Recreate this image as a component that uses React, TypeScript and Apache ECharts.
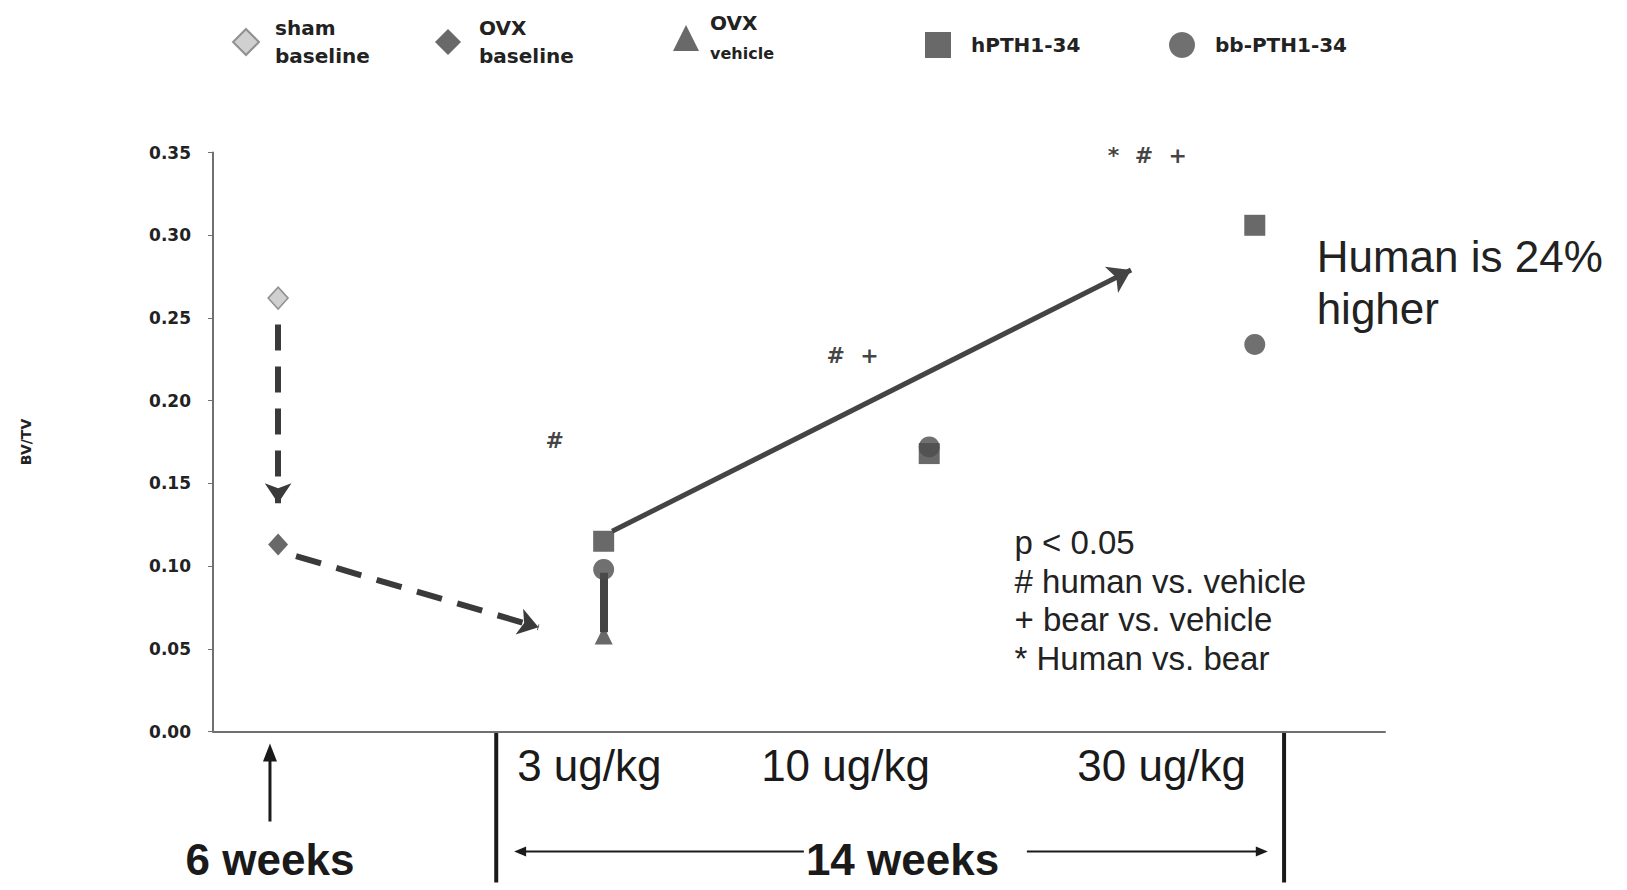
import React, { useEffect, useRef } from "react";
import * as echarts from "echarts";

// ---- data (BV/TV) ----
const shamBaseline = [[0.2, 0.262]];
const ovxBaseline = [[0.2, 0.113]];
const ovxVehicle = [[1.2, 0.058]];
const hPTH = [[1.2, 0.115], [2.2, 0.168], [3.2, 0.306]];
const bbPTH = [[1.2, 0.098], [2.2, 0.172], [3.2, 0.234]];

const yTickStep = 0.05;
const yMax = 0.35;

// significance marks [x, y, text]
const sigMarks: [number, number, string][] = [
  [1.05, 0.176, "#"],
  [1.965, 0.227, "#  +"],
  [2.87, 0.348, "*  #  +"],
];

// arrows (data coords)
const dashedArrows = [
  [[0.2, 0.246], [0.2, 0.138]],
  [[0.255, 0.106], [1.0, 0.063]],
];
const trendArrow = [[1.226, 0.121], [2.82, 0.279]];
const vehicleBar = [[1.2, 0.06], [1.2, 0.096]];

const doseLabels: [number, string][] = [
  [1.156, "3 ug/kg"],
  [1.943, "10 ug/kg"],
  [2.914, "30 ug/kg"],
];
const sixWeekX = 0.175;
const periodBounds = [0.87, 3.29];
const fourteenWeekX = 2.118;
const fourteenArrowLeft = [1.815, 0.925];
const fourteenArrowRight = [2.5, 3.24];

const humanNote = { x: 3.39, y: 0.287, text: "Human is 24%\nhigher" };
const pNote = { x: 2.462, y: 0.1142, text: "p < 0.05\n# human vs. vehicle\n+ bear vs. vehicle\n* Human vs. bear" };

const seriesNames = ["sham baseline", "OVX baseline", "OVX vehicle", "hPTH1-34", "bb-PTH1-34"];
const legendLabels: Record<string, string> = {
  "sham baseline": "sham\nbaseline",
  "OVX baseline": "OVX\nbaseline",
  "OVX vehicle": "{a|OVX}\n{b|vehicle}",
  "hPTH1-34": "hPTH1-34",
  "bb-PTH1-34": "bb-PTH1-34",
};
const legendPos = [
  { left: 227, top: 9, pad: 11 },
  { left: 430, top: 9, pad: 13 },
  { left: 668, top: 3, pad: 6 },
  { left: 920, top: 26, pad: 15 },
  { left: 1164, top: 26, pad: 15 },
];

const DARK = "#444444";
const AXIS = "#707070";
const BOLD_FONT = "DejaVu Sans";
const ARIAL = "Liberation Sans";

export default function App() {
  const ref = useRef<HTMLDivElement>(null);
  useEffect(() => {
    if (!ref.current) return;
    const chart = echarts.init(ref.current, undefined, { renderer: "svg" });

    const legends = seriesNames.map((name, i) => ({
      data: [name],
      left: legendPos[i].left,
      top: legendPos[i].top,
      orient: "horizontal",
      itemWidth: 26,
      itemHeight: 26,
      selectedMode: false,
      formatter: (n: string) => legendLabels[n],
      textStyle: {
        fontFamily: BOLD_FONT,
        fontWeight: "bold",
        fontSize: 20,
        color: "#222",
        lineHeight: 28,
        padding: [0, 0, 0, legendPos[i].pad],
        rich: {
          a: { fontFamily: BOLD_FONT, fontWeight: "bold", fontSize: 20, color: "#222", lineHeight: 30 },
          b: { fontFamily: BOLD_FONT, fontWeight: "bold", fontSize: 16, color: "#222", lineHeight: 30 },
        },
      },
    }));

    const option: any = {
      animation: false,
      backgroundColor: "#ffffff",
      legend: legends,
      grid: { left: 213, top: 152.5, width: 1172, height: 579, containLabel: false },
      xAxis: {
        type: "value",
        min: 0,
        max: 3.6,
        axisLine: { show: true, onZero: false, lineStyle: { color: AXIS, width: 2 } },
        axisTick: { show: false },
        axisLabel: { show: false },
        splitLine: { show: false },
      },
      yAxis: {
        type: "value",
        min: 0,
        max: yMax,
        interval: yTickStep,
        name: "BV/TV",
        nameLocation: "middle",
        nameRotate: 90,
        nameGap: 180,
        nameTextStyle: { fontFamily: BOLD_FONT, fontWeight: "bold", fontSize: 14, color: "#222" },
        axisLine: { show: true, lineStyle: { color: AXIS, width: 2 } },
        axisTick: { show: true, length: 5, lineStyle: { color: AXIS, width: 1 } },
        axisLabel: {
          formatter: (v: number) => v.toFixed(2),
          fontFamily: BOLD_FONT,
          fontWeight: "bold",
          fontSize: 17,
          color: "#222",
          margin: 22,
        },
        splitLine: { show: false },
      },
      series: [
        {
          name: "sham baseline",
          type: "scatter",
          symbol: "diamond",
          symbolSize: [20, 22],
          itemStyle: { color: "#c4c4c4", borderColor: "#7a7a7a", borderWidth: 1.5 },
          data: shamBaseline,
          z: 5,
        },
        {
          name: "OVX baseline",
          type: "scatter",
          symbol: "diamond",
          symbolSize: [20, 22],
          itemStyle: { color: DARK },
          data: ovxBaseline,
          z: 5,
        },
        {
          name: "OVX vehicle",
          type: "scatter",
          symbol: "triangle",
          symbolSize: [18, 18],
          itemStyle: { color: DARK },
          data: ovxVehicle,
          z: 5,
        },
        {
          name: "hPTH1-34",
          type: "scatter",
          symbol: "rect",
          symbolSize: 21,
          itemStyle: { color: DARK },
          data: hPTH,
          z: 5,
        },
        {
          name: "bb-PTH1-34",
          type: "scatter",
          symbol: "circle",
          symbolSize: 21,
          itemStyle: { color: "#4c4c4c" },
          data: bbPTH,
          z: 5,
        },
        {
          name: "significance",
          type: "scatter",
          symbolSize: 0,
          data: sigMarks.map((m) => ({ value: [m[0], m[1]], name: m[2] })),
          label: {
            show: true,
            position: "inside",
            formatter: (p: any) => p.name,
            fontFamily: BOLD_FONT,
            fontWeight: "bold",
            fontSize: 22,
            color: "#111",
          },
          silent: true,
        },
        {
          name: "dashedArrows",
          type: "scatter",
          data: [],
          markLine: {
            silent: true,
            symbol: ["none", "arrow"],
            symbolSize: 20,
            label: { show: false },
            lineStyle: { color: "#3a3a3a", width: 6, type: [26, 16] },
            data: dashedArrows.map((a) => [{ coord: a[0] }, { coord: a[1] }]),
          },
        },
        {
          name: "trendArrow",
          type: "scatter",
          data: [],
          markLine: {
            silent: true,
            symbol: ["none", "arrow"],
            symbolSize: 22,
            label: { show: false },
            lineStyle: { color: "#444", width: 5, type: "solid" },
            data: [[{ coord: trendArrow[0] }, { coord: trendArrow[1] }]],
          },
        },
        {
          name: "vehicleBar",
          type: "scatter",
          data: [],
          markLine: {
            silent: true,
            symbol: ["none", "none"],
            label: { show: false },
            lineStyle: { color: DARK, width: 8, type: "solid" },
            data: [[{ coord: vehicleBar[0] }, { coord: vehicleBar[1] }]],
          },
        },
      ],
    };

    chart.setOption(option);

    const px = (x: number, y: number) => chart.convertToPixel({ gridIndex: 0 }, [x, y]) as number[];
    const gx = (x: number) => px(x, 0)[0];
    const b = px(0, 0)[1];
    const ink = "#1a1a1a";

    const sx = gx(sixWeekX);
    const hn = px(humanNote.x, humanNote.y);
    const pn = px(pNote.x, pNote.y);
    const la = fourteenArrowLeft.map(gx);
    const ra = fourteenArrowRight.map(gx);
    const ay = b + 120;

    const graphic: any[] = [
      { type: "line", shape: { x1: sx, y1: b + 90, x2: sx, y2: b + 26 }, style: { stroke: ink, lineWidth: 3 } },
      { type: "polygon", shape: { points: [[sx, b + 12], [sx - 7, b + 30], [sx + 7, b + 30]] }, style: { fill: ink } },
      {
        type: "text",
        x: sx,
        y: b + 128,
        style: { text: "6 weeks", fontFamily: ARIAL, fontWeight: "bold", fontSize: 44, fill: ink, align: "center", verticalAlign: "middle" },
      },
      ...periodBounds.map((v) => ({
        type: "line",
        shape: { x1: gx(v), y1: b, x2: gx(v), y2: b + 151 },
        style: { stroke: ink, lineWidth: 4 },
      })),
      ...doseLabels.map((d) => ({
        type: "text",
        x: gx(d[0]),
        y: b + 34,
        style: { text: d[1], fontFamily: ARIAL, fontSize: 44, fill: ink, align: "center", verticalAlign: "middle" },
      })),
      {
        type: "text",
        x: gx(fourteenWeekX),
        y: b + 128,
        style: { text: "14 weeks", fontFamily: ARIAL, fontWeight: "bold", fontSize: 44, fill: ink, align: "center", verticalAlign: "middle" },
      },
      { type: "line", shape: { x1: la[0], y1: ay, x2: la[1] + 8, y2: ay }, style: { stroke: ink, lineWidth: 2 } },
      { type: "polygon", shape: { points: [[la[1], ay], [la[1] + 12, ay - 5], [la[1] + 12, ay + 5]] }, style: { fill: ink } },
      { type: "line", shape: { x1: ra[0], y1: ay, x2: ra[1] - 8, y2: ay }, style: { stroke: ink, lineWidth: 2 } },
      { type: "polygon", shape: { points: [[ra[1], ay], [ra[1] - 12, ay - 5], [ra[1] - 12, ay + 5]] }, style: { fill: ink } },
      {
        type: "text",
        x: hn[0],
        y: hn[1] - 26,
        style: { text: humanNote.text, fontFamily: ARIAL, fontSize: 44, lineHeight: 52, fill: "#222", align: "left", verticalAlign: "top" },
      },
      {
        type: "text",
        x: pn[0],
        y: pn[1] - 19,
        style: { text: pNote.text, fontFamily: ARIAL, fontSize: 33, lineHeight: 38.5, fill: "#222", align: "left", verticalAlign: "top" },
      },
    ];
    chart.setOption({ graphic });

    return () => chart.dispose();
  }, []);

  return <div ref={ref} style={{ position: "fixed", left: 0, top: 0, width: 1627, height: 890 }} />;
}
